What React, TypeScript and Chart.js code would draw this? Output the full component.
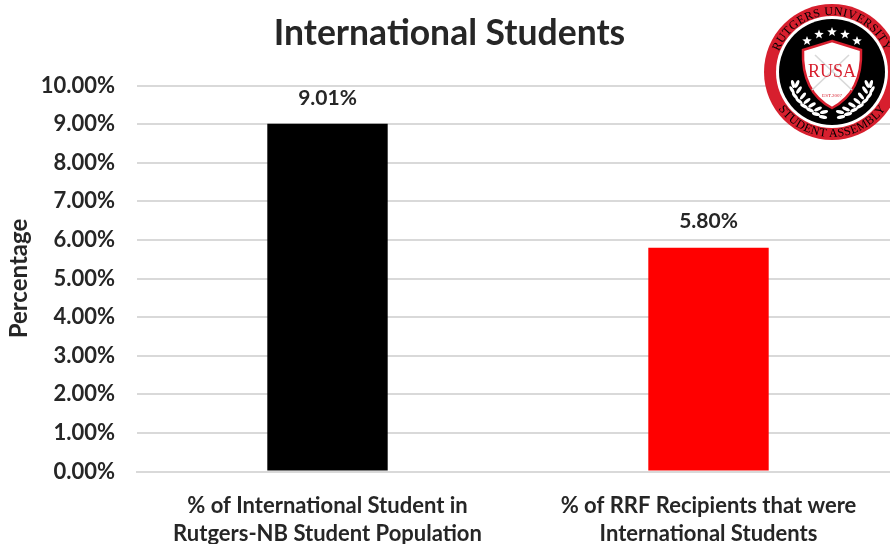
import React, { useEffect, useRef } from "react";
import { Chart, registerables } from "chart.js";

Chart.register(...registerables);

const chartTitle = "International Students";
const yAxisTitle = "Percentage";
const categories = [
  ["% of International Student in", "Rutgers-NB Student Population"],
  ["% of RRF Recipients that were", "International Students"],
];
const shares = [9.01, 5.8];
const barColors = ["#000000", "#ff0000"];
const yMin = 0;
const yMax = 10;
const yStep = 1;

const FONT = "Lato, Carlito, 'Open Sans', sans-serif";
const INK = "#262626";
const CREST_RED = "#d71f2e";

const percent = (v: number) => v.toFixed(2) + "%";

// Writes each bar's value just above it.
const barValueLabels = {
  id: "barValueLabels",
  afterDatasetsDraw(chart: Chart) {
    const { ctx } = chart;
    const meta = chart.getDatasetMeta(0);
    ctx.save();
    ctx.font = `bold 21px ${FONT}`;
    ctx.fillStyle = INK;
    ctx.textAlign = "center";
    ctx.textBaseline = "middle";
    meta.data.forEach((bar, i) => {
      ctx.fillText(percent(shares[i]), bar.x, bar.y - 26);
    });
    ctx.restore();
  },
};

const starPoints = (cx: number, cy: number, r: number) => {
  const pts: string[] = [];
  for (let i = 0; i < 10; i++) {
    const rad = i % 2 === 0 ? r : r * 0.42;
    const a = -Math.PI / 2 + (i * Math.PI) / 5;
    pts.push(`${cx + rad * Math.cos(a)},${cy + rad * Math.sin(a)}`);
  }
  return pts.join(" ");
};

const crestStars: [number, number][] = [
  [807, 41],
  [819, 34.5],
  [832, 32],
  [845, 34.5],
  [857, 41],
];

// One side of the wreath: leaf centres and their tilt, running down towards the shield's tip.
const wreathLeaves: [number, number, number][] = [
  [-39, 12, 75],
  [-35, 12, 115],
  [-40, 18, 60],
  [-33, 18, 125],
  [-37, 24, 50],
  [-29, 24, 130],
  [-33, 29, 40],
  [-25, 29, 140],
  [-28, 34, 30],
  [-20, 33, 150],
  [-22, 38, 25],
  [-14, 37, 155],
  [-16, 42, 15],
  [-8, 40, 165],
  [-9, 45, 10],
];

function Crest() {
  return (
    <svg
      width={890}
      height={544}
      style={{ position: "absolute", left: 0, top: 0, pointerEvents: "none" }}
    >
      <defs>
        <path id="crestTop" d="M 775 72 A 57 57 0 0 1 889 72" />
        <path id="crestBottom" d="M 767 72 A 65 65 0 0 0 897 72" />
      </defs>
      <circle cx={832} cy={72} r={68} fill={CREST_RED} />
      <circle cx={832} cy={72} r={56} fill="#ffffff" />
      <circle cx={832} cy={72} r={53} fill="#000000" />
      <text fontFamily="Liberation Serif" fontSize={12} fill="#000000" letterSpacing={0.4}>
        <textPath href="#crestTop" startOffset="50%" textAnchor="middle">
          RUTGERS UNIVERSITY
        </textPath>
      </text>
      <text fontFamily="Liberation Serif" fontSize={12} fill="#000000" letterSpacing={0.4}>
        <textPath href="#crestBottom" startOffset="50%" textAnchor="middle">
          STUDENT ASSEMBLY
        </textPath>
      </text>
      {crestStars.map(([x, y], i) => (
        <polygon key={i} points={starPoints(x, y, 5)} fill="#ffffff" />
      ))}
      <path
        d="M 832 41 L 861 50 C 862 75 855 96 832 108 C 809 96 802 75 803 50 Z"
        fill="#ffffff"
        stroke={CREST_RED}
        strokeWidth={2.5}
      />
      <g stroke="#d8d8d8" strokeWidth={1.6}>
        <line x1={815} y1={55} x2={852} y2={90} />
        <line x1={849} y1={55} x2={812} y2={90} />
      </g>
      <text
        x={832}
        y={77}
        textAnchor="middle"
        fontFamily="Liberation Serif"
        fontSize={18}
        fill={CREST_RED}
      >
        RUSA
      </text>
      <text
        x={832}
        y={97}
        textAnchor="middle"
        fontFamily="Liberation Serif"
        fontSize={5}
        fill={CREST_RED}
      >
        EST.2007
      </text>
      {wreathLeaves.map(([dx, dy, tilt], i) => (
        <g key={i}>
          <ellipse
            cx={832 + dx}
            cy={72 + dy}
            rx={4.2}
            ry={1.7}
            fill="#ffffff"
            transform={`rotate(${tilt} ${832 + dx} ${72 + dy})`}
          />
          <ellipse
            cx={832 - dx}
            cy={72 + dy}
            rx={4.2}
            ry={1.7}
            fill="#ffffff"
            transform={`rotate(${-tilt} ${832 - dx} ${72 + dy})`}
          />
        </g>
      ))}
    </svg>
  );
}

export default function App() {
  const canvasRef = useRef<HTMLCanvasElement>(null);

  useEffect(() => {
    document.body.style.margin = "0";
    const chart = new Chart(canvasRef.current!, {
      type: "bar",
      data: {
        labels: categories,
        datasets: [
          {
            data: shares,
            backgroundColor: barColors,
            barPercentage: 0.316,
            categoryPercentage: 1,
          },
        ],
      },
      options: {
        responsive: false,
        animation: false,
        layout: { padding: 0 },
        plugins: {
          legend: { display: false },
          tooltip: { enabled: false },
          title: {
            display: true,
            text: chartTitle,
            color: INK,
            font: { family: FONT, size: 35.5, weight: "bold" },
            padding: { top: 12, bottom: 31 },
          },
        },
        scales: {
          x: {
            grid: { display: false },
            border: { color: "#d9d9d9", width: 2 },
            ticks: {
              color: INK,
              font: { family: FONT, size: 22, weight: "bold", lineHeight: 1.27 },
              padding: 12,
              maxRotation: 0,
              autoSkip: false,
            },
            afterFit(scale: any) {
              scale.height = 72.5;
            },
          },
          y: {
            min: yMin,
            max: yMax,
            ticks: {
              stepSize: yStep,
              color: INK,
              font: { family: FONT, size: 22, weight: "bold" },
              padding: 22,
              callback: (v: any) => percent(Number(v)),
            },
            grid: { color: "#d9d9d9", lineWidth: 2, drawTicks: false },
            border: { display: false },
            title: {
              display: true,
              text: yAxisTitle,
              color: INK,
              font: { family: FONT, size: 24, weight: "bold" },
              padding: { top: 5, bottom: 0 },
            },
            afterFit(scale: any) {
              scale.width = 137;
            },
          },
        },
      },
      plugins: [barValueLabels],
    });
    return () => chart.destroy();
  }, []);

  return (
    <div style={{ position: "relative", width: 890, height: 544, overflow: "hidden" }}>
      <canvas ref={canvasRef} width={899} height={544} style={{ display: "block" }} />
      <Crest />
    </div>
  );
}
